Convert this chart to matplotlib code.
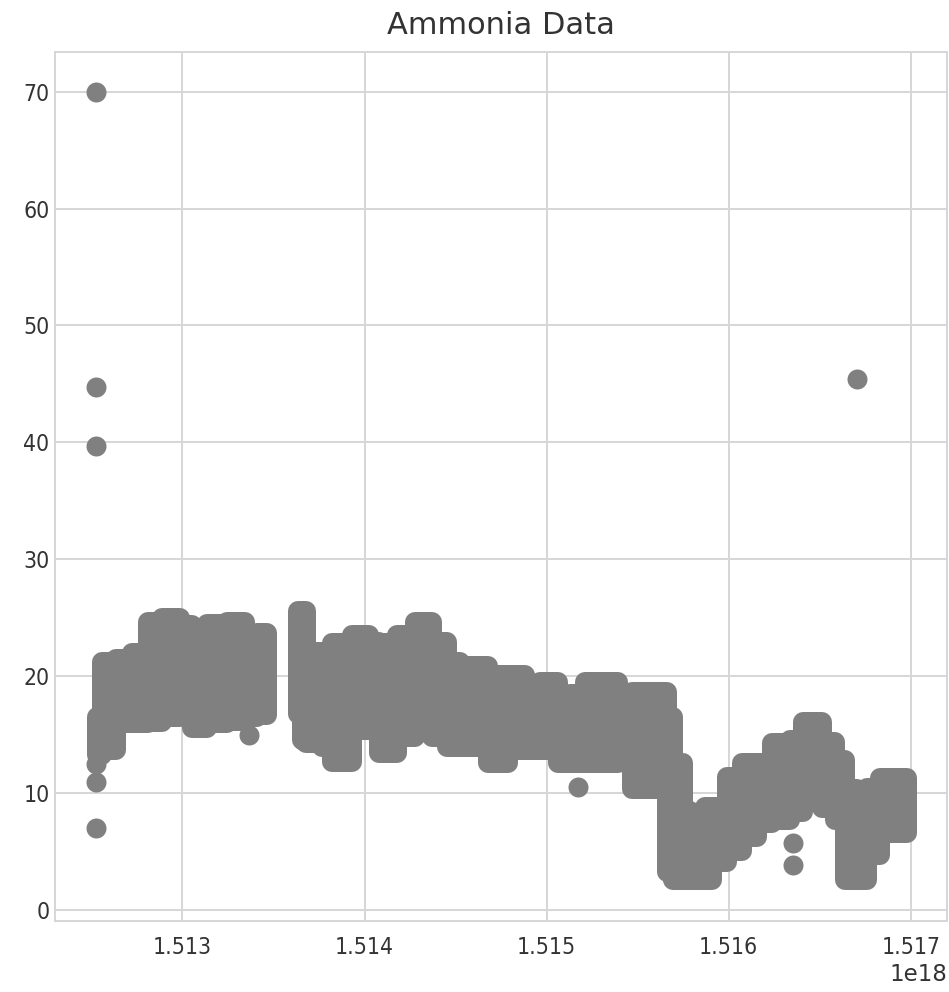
import numpy as np
import matplotlib
matplotlib.use("Agg")
import matplotlib.pyplot as plt

# timestamps in units of 1e18 ns, ammonia readings
# dense band read off the chart as lower / upper envelope (step-wise)
band1_x = [1.512533, 1.512560, 1.512637, 1.512720, 1.512808, 1.512890, 1.512984,
           1.513055, 1.513137, 1.513242, 1.513341, 1.513407, 1.513462]
band1_hi = [16.5, 21.2, 21.5, 22.0, 24.6, 25.0, 24.4, 22.2, 24.5, 24.6, 22.4, 23.7, 23.7]
band1_lo = [13.25, 13.7, 16.0, 16.0, 16.1, 16.5, 17.1, 15.6, 16.0, 16.2, 16.5, 16.7, 16.7]

band2_x = [1.513632, 1.513659, 1.513681, 1.513764, 1.513824, 1.513929, 1.514027,
           1.514082, 1.514176, 1.514275, 1.514368, 1.514451, 1.514522, 1.514676,
           1.514786, 1.514879, 1.514962, 1.515060, 1.515126, 1.515209, 1.515390,
           1.515467, 1.515659, 1.515692, 1.515747, 1.515786, 1.515802, 1.515868,
           1.515907, 1.515989, 1.516071, 1.516154, 1.516236, 1.516335, 1.516407,
           1.516511, 1.516582, 1.516637, 1.516703, 1.516758, 1.516830, 1.516978]
band2_hi = [25.6, 25.6, 22.05, 21.5, 22.8, 23.5, 22.9, 22.8, 23.5, 24.6,
            22.9, 21.2, 20.9, 20.1, 20.1, 18.6, 19.5, 18.2, 18.5, 19.5,
            17.3, 18.6, 16.5, 12.6, 8.5, 4.5, 6.4, 8.8, 8.8, 11.4,
            12.6, 12.6, 14.3, 14.5, 16.1, 14.4, 12.8, 10.3, 7.4, 10.4,
            11.3, 11.3]
band2_lo = [16.8, 14.5, 14.3, 13.9, 12.65, 15.4, 16.0, 13.4, 14.8, 16.5,
            14.8, 13.9, 13.9, 12.6, 13.7, 13.7, 13.7, 12.6, 12.6, 12.6,
            12.65, 10.3, 3.2, 2.55, 2.55, 2.55, 2.55, 2.55, 4.1, 5.0,
            6.2, 7.4, 7.7, 8.4, 9.6, 8.7, 7.7, 2.55, 2.55, 4.7,
            6.6, 6.6]

# isolated readings
out_x = [1.512527, 1.512527, 1.512527, 1.512527, 1.512527, 1.512527,
         1.513363, 1.515170, 1.516352, 1.516352, 1.516703]
out_y = [70.0, 44.7, 39.7, 12.5, 10.9, 7.0, 15.0, 10.5, 5.7, 3.85, 45.4]

grey = '#808080'
dot = 14.4  # marker diameter in points

fig = plt.figure(figsize=(9.49, 9.92), dpi=100)
ax = fig.add_axes([0.058, 0.0716, 0.94, 0.876])

for bx, blo, bhi in [(band1_x, band1_lo, band1_hi), (band2_x, band2_lo, band2_hi)]:
    bx = np.array(bx) * 1e18
    ax.fill_between(bx, blo, bhi, step='post', facecolor=grey, edgecolor=grey,
                    linewidth=dot, joinstyle='round', capstyle='round', zorder=3)

ax.scatter(np.array(out_x) * 1e18, out_y, s=dot ** 2, color=grey, linewidths=0, zorder=3)

ax.set_xlim(1.51230e18, 1.51720e18)
ax.set_ylim(-0.95, 73.4)
ax.set_xticks([1.513e18, 1.514e18, 1.515e18, 1.516e18, 1.517e18])
ax.set_yticks([0, 10, 20, 30, 40, 50, 60, 70])

ax.set_facecolor('white')
ax.grid(True, color='#d6d6d6', linewidth=1.4, zorder=0)
ax.set_axisbelow(True)
for sp in ax.spines.values():
    sp.set_color('#d6d6d6')
    sp.set_linewidth(1.4)
ax.tick_params(length=0, labelsize=16.5, labelcolor='#333333')
ax.tick_params(axis='x', pad=11)
ax.tick_params(axis='y', pad=4)
for lab in ax.get_xticklabels() + ax.get_yticklabels():
    lab.set_fontstretch('condensed')
ax.xaxis.get_offset_text().set_fontsize(16.5)
ax.xaxis.get_offset_text().set_color('#333333')

ax.set_title('Ammonia Data', fontsize=22, color='#333333', pad=13)

fig.savefig('out.png', dpi=100)
